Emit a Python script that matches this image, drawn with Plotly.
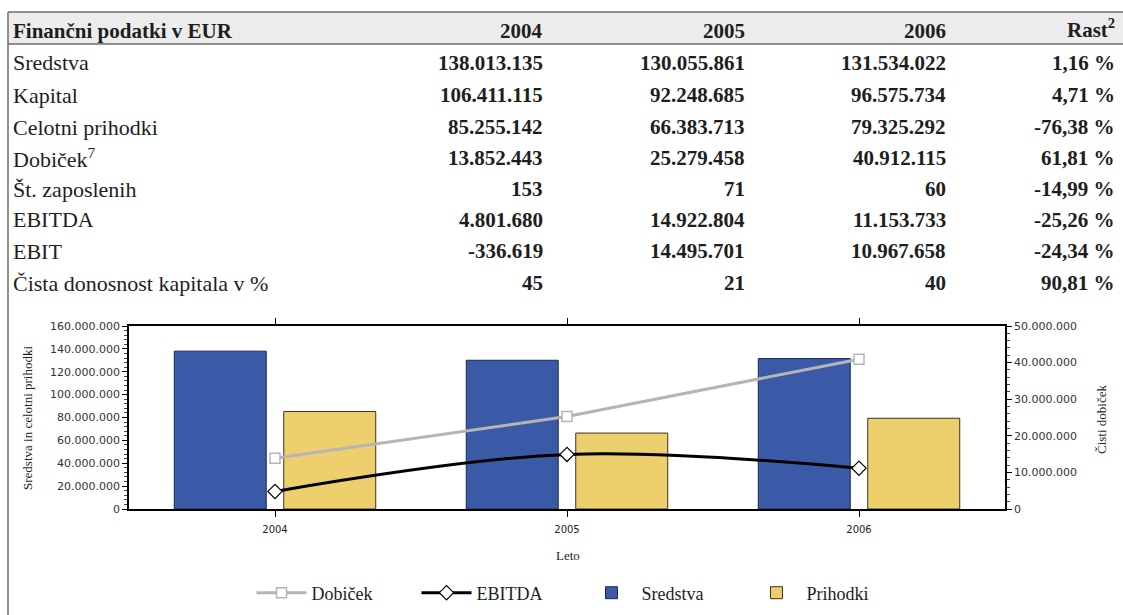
import plotly.graph_objects as go

# ---------------- data ----------------
years = ["2004", "2005", "2006"]
row_labels = ["Sredstva", "Kapital", "Celotni prihodki", "Dobiček<sup>7</sup>",
              "Št. zaposlenih", "EBITDA", "EBIT", "Čista donosnost kapitala v %"]
val_2004 = [138013135, 106411115, 85255142, 13852443, 153, 4801680, -336619, 45]
val_2005 = [130055861, 92248685, 66383713, 25279458, 71, 14922804, 14495701, 21]
val_2006 = [131534022, 96575734, 79325292, 40912115, 60, 11153733, 10967658, 40]
rast = [1.16, 4.71, -76.38, 61.81, -14.99, -25.26, -24.34, 90.81]

sredstva = [val_2004[0], val_2005[0], val_2006[0]]
prihodki = [val_2004[2], val_2005[2], val_2006[2]]
dobicek = [val_2004[3], val_2005[3], val_2006[3]]
ebitda = [val_2004[5], val_2005[5], val_2006[5]]

W, H = 1123, 615
SERIF = "'Liberation Serif', 'DejaVu Serif', serif"
SANS = "'DejaVu Sans', sans-serif"


def py(p):
    return 1 - p / H


def px(p):
    return p / W


def fmt_int(v):
    return f"{v:,}".replace(",", ".")


def fmt_pct(v):
    return f"{v:.2f}".replace(".", ",") + " %"


fig = go.Figure()

# lines (right axis)
fig.add_trace(go.Scatter(
    x=years, y=dobicek, name="Dobiček", yaxis="y2", mode="lines+markers",
    line=dict(color="#b5b5b5", width=3),
    marker=dict(symbol="square", size=10, color="white",
                line=dict(color="#b5b5b5", width=1.5)),
    legendrank=1))
fig.add_trace(go.Scatter(
    x=years, y=ebitda, name="EBITDA", yaxis="y2", mode="lines+markers",
    line=dict(color="black", width=3, shape="spline", smoothing=1),
    marker=dict(symbol="diamond", size=11, color="white",
                line=dict(color="black", width=1.2)),
    legendrank=2))
# bars (left axis)
fig.add_trace(go.Bar(
    x=years, y=sredstva, name="Sredstva", yaxis="y",
    marker=dict(color="#3a5aa8", line=dict(color="#1a2a50", width=1)),
    legendrank=3))
fig.add_trace(go.Bar(
    x=years, y=prihodki, name="Prihodki", yaxis="y",
    marker=dict(color="#eecf6e", line=dict(color="#3a3320", width=1)),
    legendrank=4))

# ---------------- table ----------------
shapes = [
    dict(type="rect", xref="paper", yref="paper", x0=px(8), x1=1.0,
         y0=py(44), y1=py(12), fillcolor="#ececec", line=dict(width=0), layer="below"),
    dict(type="line", xref="paper", yref="paper", x0=px(8), x1=1.0,
         y0=py(12), y1=py(12), line=dict(color="#6e6e6e", width=1.5)),
    dict(type="line", xref="paper", yref="paper", x0=px(8), x1=1.0,
         y0=py(44), y1=py(44), line=dict(color="#6e6e6e", width=1.5)),
    dict(type="line", xref="paper", yref="paper", x0=px(8), x1=px(8),
         y0=py(12), y1=0, line=dict(color="#6e6e6e", width=1.5)),
]

annotations = []
col_right = [545, 747, 948, 1117]
header_y = 31
TXT = "#1e1e1e"
annotations.append(dict(text="<b>Finančni podatki v EUR</b>", x=px(11), y=py(header_y),
                        xref="paper", yref="paper", xanchor="left", yanchor="middle",
                        showarrow=False, font=dict(family=SERIF, size=21, color=TXT)))
for yr, cx in zip(years, col_right[:3]):
    annotations.append(dict(text=f"<b>{yr}</b>", x=px(cx), y=py(header_y),
                            xref="paper", yref="paper", xanchor="right", yanchor="middle",
                            showarrow=False, font=dict(family=SERIF, size=21, color=TXT)))
annotations.append(dict(text="<b>Rast<sup>2</sup></b>", x=px(col_right[3]), y=py(header_y - 3),
                        xref="paper", yref="paper", xanchor="right", yanchor="middle",
                        showarrow=False, font=dict(family=SERIF, size=21, color=TXT)))

row_y = [63, 95, 127, 158, 189, 220, 251, 283]
for i, lab in enumerate(row_labels):
    yy = row_y[i]
    annotations.append(dict(text=lab, x=px(11), y=py(yy), xref="paper", yref="paper",
                            xanchor="left", yanchor="middle", showarrow=False,
                            font=dict(family=SERIF, size=22, color=TXT)))
    vals = [fmt_int(val_2004[i]), fmt_int(val_2005[i]), fmt_int(val_2006[i]), fmt_pct(rast[i])]
    for v, cx in zip(vals, col_right):
        annotations.append(dict(text=f"<b>{v}</b>", x=px(cx), y=py(yy), xref="paper",
                                yref="paper", xanchor="right", yanchor="middle",
                                showarrow=False, font=dict(family=SERIF, size=21, color=TXT)))

# axis titles
annotations.append(dict(text="Sredstva in celotni prihodki", x=px(27), y=py(418),
                        xref="paper", yref="paper", textangle=-90, showarrow=False,
                        xanchor="center", yanchor="middle",
                        font=dict(family=SERIF, size=13, color=TXT)))
annotations.append(dict(text="Čisti dobiček", x=px(1101), y=py(420),
                        xref="paper", yref="paper", textangle=-90, showarrow=False,
                        xanchor="center", yanchor="middle",
                        font=dict(family=SERIF, size=13, color=TXT)))
annotations.append(dict(text="Leto", x=px(568), y=py(555),
                        xref="paper", yref="paper", showarrow=False,
                        xanchor="center", yanchor="middle",
                        font=dict(family=SERIF, size=13, color=TXT)))

x0d, x1d = px(129), px(1005)
y0d, y1d = py(509), py(326)

left_vals = list(range(0, 160000001, 20000000))
right_vals = list(range(0, 50000001, 10000000))

fig.update_layout(
    width=W, height=H,
    margin=dict(l=0, r=0, t=0, b=0),
    paper_bgcolor="white", plot_bgcolor="white",
    barmode="group", bargap=0.25, bargroupgap=0.16,
    shapes=shapes, annotations=annotations,
    xaxis=dict(domain=[x0d, x1d], type="category", showline=True, linecolor="black",
               linewidth=1.5, mirror="ticks", ticks="outside", ticklen=6,
               tickcolor="black", showgrid=False, automargin=False,
               ticklabelstandoff=4,
               tickfont=dict(family=SANS, size=10, color="#222")),
    yaxis=dict(domain=[y0d, y1d], range=[0, 160000000], showline=True, linecolor="black",
               linewidth=1.5, ticks="outside", ticklen=5, tickcolor="black",
               tickvals=left_vals, ticktext=[fmt_int(v) for v in left_vals],
               showgrid=False, zeroline=False, automargin=False,
               minor=dict(dtick=4000000, ticks="outside", ticklen=3, tickcolor="#444"),
               tickfont=dict(family=SANS, size=11, color="#333")),
    yaxis2=dict(overlaying="y", side="right", range=[0, 50000000], showline=True,
                linecolor="black", linewidth=1.5, ticks="outside", ticklen=5,
                tickcolor="black", tickvals=right_vals,
                ticktext=[fmt_int(v) for v in right_vals],
                showgrid=False, zeroline=False, automargin=False,
                minor=dict(dtick=2000000, ticks="outside", ticklen=3, tickcolor="#444"),
                tickfont=dict(family=SANS, size=11, color="#333")),
    legend=dict(orientation="h", x=0.5 + 20 / W, xanchor="center", y=py(593), yanchor="middle",
                font=dict(family=SERIF, size=18, color=TXT), traceorder="normal",
                itemwidth=50, entrywidth=100, entrywidthmode="pixels"),
    showlegend=True,
)

fig.write_html("out.html")
